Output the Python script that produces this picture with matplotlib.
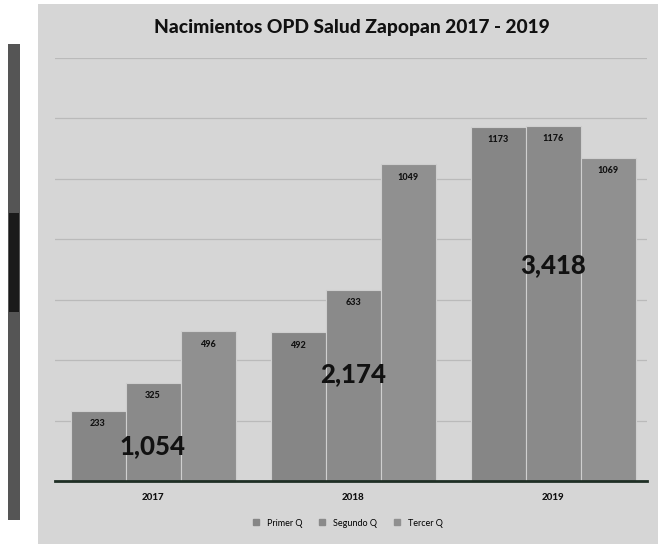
import numpy as np
import matplotlib
matplotlib.use("Agg")
import matplotlib.pyplot as plt
from matplotlib.patches import Rectangle
from matplotlib.lines import Line2D

# ---- data ----
years = ["2017", "2018", "2019"]
series = ["Primer Q", "Segundo Q", "Tercer Q"]
primer_q = [233, 492, 1173]
segundo_q = [325, 633, 1176]
tercer_q = [496, 1049, 1069]
totals_text = ["1,054", "2,174", "3,418"]

PAGE = "#ffffff"
PANEL = "#d6d6d6"
BAR_COLORS = ["#868686", "#8a8a8a", "#909090"]
GRID = "#bababa"
INK = "#111111"

plt.rcParams["font.family"] = ["Lato", "DejaVu Sans"]

fig = plt.figure(figsize=(6.58, 5.47), dpi=100, facecolor=PAGE)

# scanned page: dark strip at left, gray chart panel
fig.patches.append(Rectangle((8 / 658, 0.05), 12 / 658, 0.87, transform=fig.transFigure,
                             facecolor="#555555", edgecolor="none", zorder=-3))
fig.patches.append(Rectangle((9 / 658, 0.43), 10 / 658, 0.18, transform=fig.transFigure,
                             facecolor="#1a1a1a", edgecolor="none", zorder=-2))
fig.patches.append(Rectangle((38 / 658, 3 / 547), 620 / 658, 540 / 547,
                             transform=fig.transFigure, facecolor=PANEL,
                             edgecolor="none", zorder=-3))

ax = fig.add_axes([55 / 658, 66 / 547, 592 / 658, 423 / 547])
ax.set_facecolor("none")
ax.set_zorder(2)

x = np.arange(len(years))
w = 0.275
vals = [primer_q, segundo_q, tercer_q]
for i, (name, v) in enumerate(zip(series, vals)):
    pos = x + (i - 1) * w
    bars = ax.bar(pos, v, width=w, color=BAR_COLORS[i], edgecolor="#cfcfcf",
                  linewidth=0.8, label=name, zorder=3)
    for b, val in zip(bars, v):
        ax.text(b.get_x() + b.get_width() / 2, val - 28, f"{val}",
                ha="center", va="top", fontsize=6.5, fontweight="black",
                color=INK, zorder=4)

# big group totals
tot_y = [116, 354, 715]
for xi, t, ty in zip(x, totals_text, tot_y):
    ax.text(xi, ty, t, ha="center", va="center", fontsize=18.5,
            fontweight="black", color=INK, zorder=5)

ax.set_xlim(-0.49, 2.47)
ax.set_ylim(0, 1400)
ax.set_yticks(np.arange(200, 1401, 200))
ax.yaxis.grid(True, color=GRID, lw=0.9, zorder=0)
ax.set_axisbelow(True)
ax.tick_params(axis="y", length=0, labelleft=False)
ax.tick_params(axis="x", length=0, pad=9)
ax.set_xticks(x)
ax.set_xticklabels(years, fontsize=7, fontweight="black", color=INK)
for s in ["top", "right", "left"]:
    ax.spines[s].set_visible(False)
ax.spines["bottom"].set_color("#1f2f25")
ax.spines["bottom"].set_linewidth(2.0)
ax.spines["bottom"].set_zorder(6)

handles = [Line2D([], [], marker="s", ls="none", color=c, markersize=4, label=s)
           for c, s in zip(BAR_COLORS, series)]
fig.legend(handles=handles, loc="center", bbox_to_anchor=(345 / 658, 1 - 523 / 547),
           ncol=3, frameon=False, fontsize=6.5, handletextpad=0.2, columnspacing=1.2)

fig.text(352 / 658, 1 - 28 / 547, "Nacimientos OPD Salud Zapopan 2017 - 2019",
         ha="center", va="center", fontsize=13.8, fontweight="black", color=INK)

fig.savefig("out.png", dpi=100, facecolor=PAGE)
